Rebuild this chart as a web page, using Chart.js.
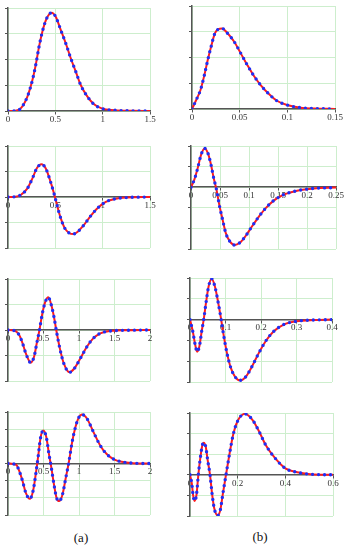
<!DOCTYPE html>
<html>
<head>
<meta charset="utf-8">
<script src="https://cdn.jsdelivr.net/npm/chart.js@4"></script>
<style>
  body { margin: 0; background: #fff; width: 347px; height: 550px; position: relative; overflow: hidden; font-family: "Liberation Serif", serif; }
  canvas { position: absolute; }
  .cap { position: absolute; font-size: 13px; color: #111; transform: translate(-50%, -50%); }
</style>
</head>
<body>
<div class="cap" style="left:81px;top:538px">(a)</div>
<div class="cap" style="left:260px;top:537px">(b)</div>
<script>
// column (a)
const a1X = [0, 0.08, 0.134, 0.205, 0.258, 0.293, 0.328, 0.363, 0.409, 0.462, 0.504, 0.557, 0.61, 0.663, 0.716, 0.768, 0.839, 0.909, 0.99, 1.12, 1.3, 1.5];
const a1Y = [0, 0.01, 0.1, 0.56, 1.2, 1.79, 2.5, 3.08, 3.6, 3.82, 3.66, 3.15, 2.63, 2.05, 1.53, 1.01, 0.56, 0.26, 0.1, 0.03, 0.005, 0];
const a1Ticks = [0, 0.5, 1, 1.5];

const a2X = [0, 0.08, 0.134, 0.205, 0.258, 0.303, 0.353, 0.399, 0.444, 0.486, 0.522, 0.557, 0.599, 0.645, 0.691, 0.74, 0.803, 0.874, 0.945, 1.033, 1.139, 1.262, 1.5];
const a2Y = [0, 0.01, 0.08, 0.34, 0.73, 1.12, 1.28, 1.12, 0.66, 0.14, -0.38, -0.83, -1.22, -1.41, -1.45, -1.35, -1.09, -0.74, -0.44, -0.19, -0.065, -0.02, 0];
const a2Ticks = [0, 0.5, 1, 1.5];

const a3X = [0, 0.088, 0.158, 0.205, 0.25, 0.32, 0.367, 0.405, 0.443, 0.484, 0.526, 0.568, 0.61, 0.647, 0.684, 0.73, 0.786, 0.866, 0.936, 1.02, 1.113, 1.2, 1.3, 1.44, 1.7, 2];
const a3Y = [0, -0.02, -0.2, -0.52, -0.91, -1.28, -1.05, -0.52, 0, 0.65, 1.11, 1.28, 0.98, 0.52, -0.07, -0.72, -1.31, -1.66, -1.5, -1.11, -0.65, -0.33, -0.13, -0.04, -0.01, 0];
const a3Ticks = [0, 0.5, 1, 1.5, 2];

const a4X = [0, 0.116, 0.158, 0.205, 0.25, 0.307, 0.353, 0.391, 0.423, 0.46, 0.498, 0.54, 0.577, 0.61, 0.647, 0.684, 0.72, 0.768, 0.81, 0.856, 0.903, 0.95, 0.996, 1.043, 1.113, 1.205, 1.3, 1.39, 1.485, 1.6, 1.76, 2];
const a4Y = [0, -0.08, -0.43, -1.02, -1.7, -2.06, -1.6, -0.62, 0.35, 1.53, 1.92, 1.53, 0.55, -0.23, -1.21, -2.0, -2.19, -1.8, -0.92, 0.06, 1.24, 2.12, 2.67, 2.85, 2.61, 1.82, 1.04, 0.55, 0.26, 0.1, 0.02, 0];
const a4Ticks = [0, 0.5, 1, 1.5, 2];

// column (b)
const b1X = [0, 0.0044, 0.0089, 0.013, 0.0165, 0.02, 0.024, 0.0276, 0.0315, 0.0373, 0.0443, 0.0512, 0.058, 0.065, 0.072, 0.081, 0.089, 0.0998, 0.114, 0.128, 0.15];
const b1Y = [0, 0.35, 0.74, 1.32, 1.9, 2.42, 2.94, 3.1, 3.13, 2.94, 2.61, 2.16, 1.71, 1.28, 0.93, 0.57, 0.32, 0.155, 0.05, 0.02, 0];
const b1Ticks = [0, 0.05, 0.1, 0.15];

const b2X = [0, 0.0059, 0.0116, 0.0172, 0.0236, 0.0293, 0.0345, 0.039, 0.0437, 0.049, 0.0547, 0.06, 0.0667, 0.0753, 0.084, 0.0938, 0.105, 0.1167, 0.128, 0.1426, 0.16, 0.183, 0.212, 0.25];
const b2Y = [0, 0.38, 0.93, 1.56, 1.88, 1.64, 1.09, 0.46, -0.09, -0.89, -1.6, -2.23, -2.62, -2.81, -2.7, -2.38, -1.91, -1.44, -1.04, -0.65, -0.36, -0.17, -0.06, -0.02];
const b2Ticks = [0, 0.05, 0.1, 0.15, 0.2, 0.25];

const b3X = [0, 0.0078, 0.0145, 0.02, 0.0265, 0.033, 0.0386, 0.045, 0.0525, 0.061, 0.07, 0.0796, 0.087, 0.0945, 0.104, 0.115, 0.127, 0.141, 0.157, 0.175, 0.194, 0.213, 0.236, 0.264, 0.3, 0.35, 0.4];
const b3Y = [0, -0.56, -1.2, -1.54, -1.28, -0.56, 0, 0.8, 1.6, 1.96, 1.6, 0.8, 0.08, -0.72, -1.6, -2.32, -2.75, -2.92, -2.75, -2.24, -1.6, -1.04, -0.56, -0.24, -0.08, -0.02, 0];
const b3Ticks = [0, 0.1, 0.2, 0.3, 0.4];

const b4X = [0, 0.0075, 0.013, 0.0188, 0.027, 0.035, 0.044, 0.052, 0.0575, 0.066, 0.074, 0.084, 0.0925, 0.102, 0.116, 0.127, 0.138, 0.151, 0.165, 0.181, 0.199, 0.23, 0.262, 0.29, 0.3175, 0.352, 0.4, 0.45, 0.505, 0.6];
const b4Y = [0, -0.42, -0.99, -1.27, -0.99, 0, 0.88, 1.45, 1.56, 1.37, 0.72, 0, -0.91, -1.64, -1.97, -1.72, -0.91, 0, 0.96, 1.94, 2.59, 2.96, 2.67, 2.1, 1.45, 0.88, 0.31, 0.12, 0.03, 0];
const b4Ticks = [0, 0.2, 0.4, 0.6];

// box = chart area in page pixels [left, top, right, bottom]
const panels = [
  { box: [8, 8, 150, 111], xs: a1X, ys: a1Y, ticks: a1Ticks, yMin: 0, yMax: 4 },
  { box: [8, 146, 150, 248], xs: a2X, ys: a2Y, ticks: a2Ticks, yMin: -2, yMax: 2 },
  { box: [8, 279, 150, 381], xs: a3X, ys: a3Y, ticks: a3Ticks, yMin: -2, yMax: 2 },
  { box: [8, 412, 150, 515], xs: a4X, ys: a4Y, ticks: a4Ticks, yMin: -3, yMax: 3 },
  { box: [192, 6, 335, 109], xs: b1X, ys: b1Y, ticks: b1Ticks, yMin: 0, yMax: 4 },
  { box: [191, 146, 336, 249], xs: b2X, ys: b2Y, ticks: b2Ticks, yMin: -3, yMax: 2 },
  { box: [190, 278, 332, 382], xs: b3X, ys: b3Y, ticks: b3Ticks, yMin: -3, yMax: 2 },
  { box: [190, 413, 333, 516], xs: b4X, ys: b4Y, ticks: b4Ticks, yMin: -2, yMax: 3 }
];

const gridGreen = '#cdeecd';
const axisGray = '#555';
const pad = { left: 12, top: 6, right: 12, bottom: 18 };

panels.forEach(p => {
  const [l, t, r, b] = p.box;
  const c = document.createElement('canvas');
  c.width = r - l + pad.left + pad.right;
  c.height = b - t + pad.top + pad.bottom;
  c.style.left = (l - pad.left) + 'px';
  c.style.top = (t - pad.top) + 'px';
  document.body.appendChild(c);

  const pts = p.xs.map((x, i) => ({ x: x, y: p.ys[i] }));
  const xMax = p.ticks[p.ticks.length - 1];

  new Chart(c, {
    type: 'line',
    data: {
      datasets: [
        {
          data: pts,
          borderColor: '#1f2ff5',
          borderWidth: 3.4,
          borderDash: [0, 6],
          borderCapStyle: 'round',
          pointRadius: 0,
          cubicInterpolationMode: 'monotone'
        },
        {
          data: pts,
          borderColor: '#ff1c1c',
          borderWidth: 2,
          pointRadius: 0,
          cubicInterpolationMode: 'monotone'
        }
      ]
    },
    options: {
      responsive: false,
      animation: false,
      devicePixelRatio: 1,
      layout: { padding: pad },
      plugins: { legend: { display: false }, tooltip: { enabled: false } },
      scales: {
        x: {
          type: 'linear',
          min: 0,
          max: xMax,
          position: { y: 0 },
          afterBuildTicks: s => { s.ticks = p.ticks.map(v => ({ value: v })); },
          afterFit: s => { s.height = 0; },
          ticks: {
            autoSkip: false,
            maxRotation: 0,
            padding: 0,
            color: '#333',
            font: { family: 'Liberation Serif', size: 9 },
            callback: v => String(v)
          },
          grid: { color: gridGreen, tickLength: 3, tickColor: axisGray },
          border: { color: axisGray, width: 1.5 }
        },
        y: {
          type: 'linear',
          min: p.yMin,
          max: p.yMax,
          afterFit: s => { s.width = 0; },
          ticks: { stepSize: 1, display: false },
          grid: { color: gridGreen, tickLength: 3, tickColor: axisGray },
          border: { color: axisGray, width: 1.5 }
        }
      }
    }
  });
});
</script>
</body>
</html>
